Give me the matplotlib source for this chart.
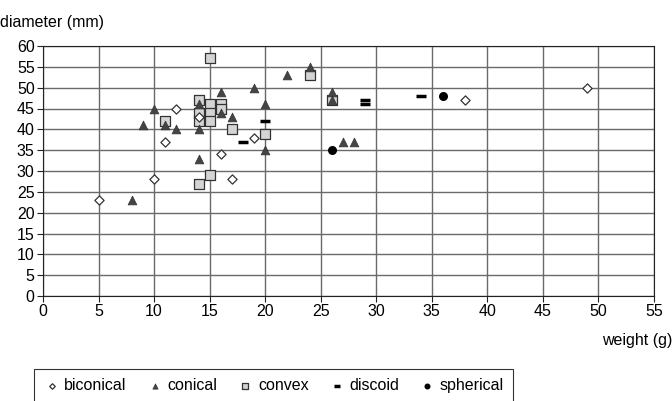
import matplotlib.pyplot as plt

plt.rcParams['font.family'] = ['Liberation Sans', 'DejaVu Sans']

# weight (g), diameter (mm) per shape
biconical_x = [5, 10, 11, 12, 14, 16, 17, 19, 38, 49]
biconical_y = [23, 28, 37, 45, 43, 34, 28, 38, 47, 50]

conical_x = [8, 9, 10, 11, 12, 14, 14, 14, 16, 16, 17, 19, 20, 20, 22, 24, 26, 26, 27, 28]
conical_y = [23, 41, 45, 41, 40, 46, 40, 33, 49, 44, 43, 50, 46, 35, 53, 55, 49, 47, 37, 37]

convex_x = [11, 14, 14, 14, 14, 15, 15, 15, 15, 15, 16, 16, 17, 20, 24, 26]
convex_y = [42, 47, 44, 42, 27, 57, 46, 44, 42, 29, 46, 45, 40, 39, 53, 47]

discoid_x = [18, 20, 29, 29, 34]
discoid_y = [37, 42, 47, 46, 48]

spherical_x = [26, 36]
spherical_y = [35, 48]

fig = plt.figure(figsize=(6.72, 4.01), dpi=100)
ax = fig.add_axes([43 / 672, 1 - 296 / 401, 611 / 672, 250 / 401])

ax.scatter(biconical_x, biconical_y, marker='D', s=22, facecolor='white',
           edgecolor='#333333', linewidth=0.9, label='biconical', zorder=3)
ax.scatter(conical_x, conical_y, marker='^', s=40, facecolor='#444444',
           edgecolor='#333333', linewidth=0.5, label='conical', zorder=3)
ax.scatter(convex_x, convex_y, marker='s', s=50, facecolor='#d4d4d4',
           edgecolor='#333333', linewidth=0.9, label='convex', zorder=2)
ax.scatter(discoid_x, discoid_y, marker='_', s=60, color='black',
           linewidth=2.5, label='discoid', zorder=3)
ax.scatter(spherical_x, spherical_y, marker='o', s=30, color='black',
           label='spherical', zorder=3)

ax.set_xlim(0, 55)
ax.set_ylim(0, 60)
ax.set_xticks(range(0, 56, 5))
ax.set_yticks(range(0, 61, 5))
ax.grid(True, color='#6a6a6a', linewidth=1.0)
ax.set_axisbelow(True)
for s in ax.spines.values():
    s.set_color('#222222')
ax.tick_params(labelsize=11.5, length=4, color='#222222', pad=2)

fig.text(0.0, 1 - 22 / 401, 'diameter (mm)', fontsize=11.5, va='center', ha='left')
fig.text(1.0, 1 - 340 / 401, 'weight (g)', fontsize=11.5, va='center', ha='right')

leg = fig.legend(loc='upper left', bbox_to_anchor=(34 / 672, 1 - 369 / 401),
                 ncol=5, frameon=True, fancybox=False, fontsize=11.5,
                 handletextpad=0.25, columnspacing=1.2, markerscale=0.6,
                 borderpad=0.55, handlelength=1.1, borderaxespad=0)
leg.get_frame().set_edgecolor('black')
leg.get_frame().set_linewidth(0.8)

fig.savefig('out.png', dpi=100)
